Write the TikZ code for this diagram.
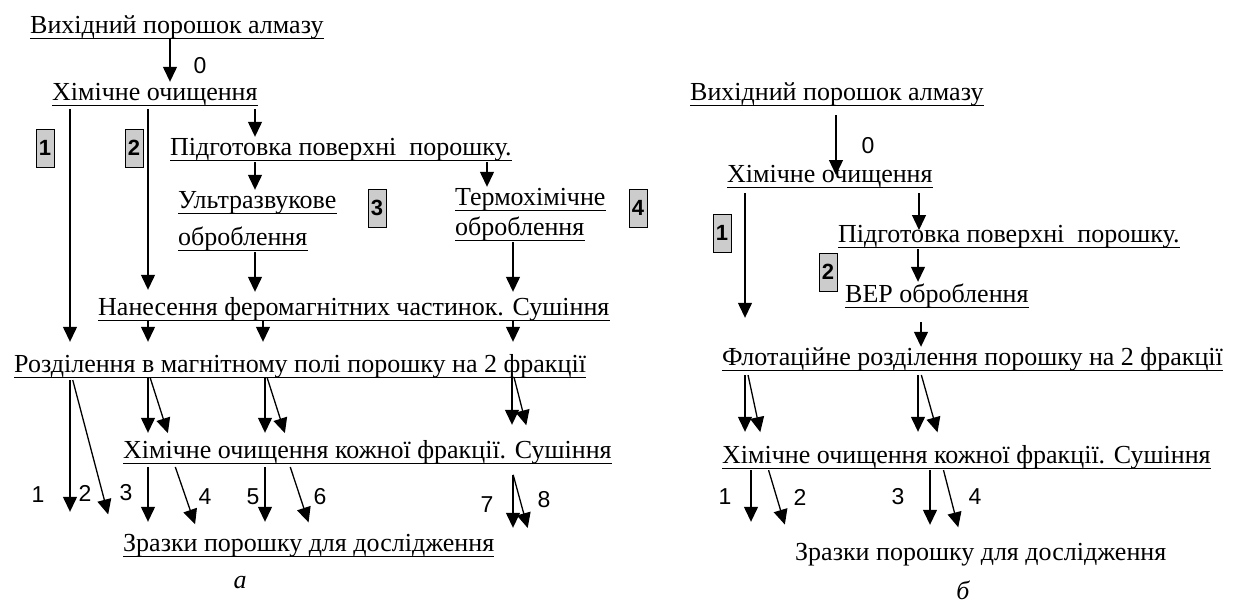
\documentclass[tikz,border=0pt]{standalone}
\usepackage{fontspec}
\setmainfont{Liberation Serif}
\newfontfamily\numfont{Liberation Sans}
\usetikzlibrary{arrows.meta}

\begin{document}
\begin{tikzpicture}[x=1pt,y=-1pt,
    stage/.style={anchor=base west,inner sep=0pt,text height=18pt,text depth=5pt,
      font=\fontsize{26}{30}\selectfont,
      append after command={(\tikzlastnode.south west) edge[line width=1.3pt] (\tikzlastnode.south east)}},
    plain/.style={anchor=base west,inner sep=0pt,text height=18pt,text depth=5pt,
      font=\fontsize{26}{30}\selectfont},
    tag/.style={draw,line width=1pt,fill=gray!40,minimum width=18pt,minimum height=38pt,
      inner sep=0pt,font=\numfont\bfseries\fontsize{22}{24}\selectfont},
    num/.style={inner sep=0pt,font=\numfont\fontsize{23}{26}\selectfont},
    arr/.style={line width=1.3pt,-{Triangle[length=15pt,width=14pt]}}]
  \fill[white] (0,0) rectangle (1250,603);
  \useasboundingbox (0,0) rectangle (1250,603);

  % scheme a
  \node[stage] (srcA) at (30,33) {Вихідний порошок алмазу};
  \node[stage] (chemA) at (52,100) {Хімічне очищення};
  \node[stage] (prepA) at (170,155) {Підготовка поверхні\ \ порошку.};
  \node[stage] (ultraA) at (178,208) {Ультразвукове};
  \node[stage] (ultraB) at (178,245) {оброблення};
  \node[stage] (termoA) at (455,205) {Термохімічне};
  \node[stage] (termoB) at (455,235) {оброблення};
  \node[stage] (nanesA) at (98,315) {Нанесення феромагнітних частинок. Сушіння};
  \node[stage] (sepA) at (14,372) {Розділення в магнітному полі порошку на 2 фракції};
  \node[stage] (washA) at (123,458) {Хімічне очищення кожної фракції. Сушіння};
  \node[stage] (probA) at (123,551) {Зразки порошку для дослідження};
  \node[font=\itshape\fontsize{26}{28}\selectfont] (capA) at (240,583) {а};

  \node[tag] (tagA1) at (45,148) {1};
  \node[tag] (tagA2) at (134,148) {2};
  \node[tag] (tagA3) at (377,208) {3};
  \node[tag] (tagA4) at (638,208) {4};

  \draw[arr] (srcA.south -| 170,0) -- (chemA.north -| 170,0);
  \node[num] (zeroA) at (200,66) {0};
  \draw[arr,shorten <=4pt,shorten >=12pt] (chemA.south -| 70,0) -- (sepA.north -| 70,0);
  \draw[arr,shorten <=4pt,shorten >=7pt] (chemA.south -| 148,0) -- (nanesA.north -| 148,0);
  \draw[arr,shorten <=4pt] (chemA.south -| 255,0) -- (prepA.north -| 255,0);
  \draw[arr,shorten <=2pt] (prepA.south -| 255,0) -- (ultraA.north -| 255,0);
  \draw[arr,shorten <=2pt] (prepA.south -| 487,0) -- (termoA.north -| 487,0);
  \draw[arr,shorten <=2pt,shorten >=5pt] (ultraB.south -| 255,0) -- (nanesA.north -| 255,0);
  \draw[arr,shorten <=2pt,shorten >=5pt] (termoB.south -| 513,0) -- (nanesA.north -| 513,0);

  \draw[arr,shorten >=12pt] (nanesA.south -| 148,0) -- (sepA.north -| 148,0);
  \draw[arr,shorten >=12pt] (nanesA.south -| 263,0) -- (sepA.north -| 263,0);
  \draw[arr,shorten >=12pt] (nanesA.south -| 513,0) -- (sepA.north -| 513,0);

  \draw[arr,shorten >=7pt] (sepA.south -| 148,0) -- (washA.north -| 148,0);
  \draw[arr,shorten >=7pt] (sepA.south -| 150,0) -- (washA.north -| 170,0);
  \draw[arr,shorten >=7pt] (sepA.south -| 265,0) -- (washA.north -| 265,0);
  \draw[arr,shorten >=7pt] (sepA.south -| 267,0) -- (washA.north -| 287,0);
  \draw[arr,shorten >=15pt] (sepA.south -| 512,0) -- (washA.north -| 512,0);
  \draw[arr,shorten >=15pt] (sepA.south -| 514,0) -- (washA.north -| 530,0);

  \draw[arr,shorten <=3pt,shorten >=21pt] (sepA.south -| 70,0) -- (probA.north -| 70,0);
  \draw[arr,shorten <=3pt,shorten >=19pt] (sepA.south -| 72,0) -- (probA.north -| 113,0);
  \draw[arr,shorten <=4pt,shorten >=11pt] (washA.south -| 148,0) -- (probA.north -| 148,0);
  \draw[arr,shorten <=4pt,shorten >=9pt] (washA.south -| 174,0) -- (probA.north -| 198,0);
  \draw[arr,shorten <=4pt,shorten >=11pt] (washA.south -| 265,0) -- (probA.north -| 265,0);
  \draw[arr,shorten <=4pt,shorten >=11pt] (washA.south -| 289,0) -- (probA.north -| 312,0);
  \draw[arr,shorten <=12pt,shorten >=5pt] (washA.south -| 513,0) -- (probA.north -| 513,0);
  \draw[arr,shorten <=12pt,shorten >=5pt] (washA.south -| 510,0) -- (probA.north -| 529,0);

  \node[num] (labA1) at (38,495) {1};
  \node[num] (labA2) at (85,493) {2};
  \node[num] (labA3) at (126,493) {3};
  \node[num] (labA4) at (205,497) {4};
  \node[num] (labA5) at (253,497) {5};
  \node[num] (labA6) at (320,497) {6};
  \node[num] (labA7) at (487,505) {7};
  \node[num] (labA8) at (544,500) {8};

  % scheme b
  \node[stage] (srcB) at (690,100) {Вихідний порошок алмазу};
  \node[stage] (chemB) at (727,182) {Хімічне очищення};
  \node[stage] (prepB) at (838,242) {Підготовка поверхні\ \ порошку.};
  \node[stage] (verB) at (845,302) {ВЕР оброблення};
  \node[stage] (flotB) at (722,365) {Флотаційне розділення порошку на 2 фракції};
  \node[stage] (washB) at (722,463) {Хімічне очищення кожної фракції. Сушіння};
  \node[plain] (probB) at (795,560) {Зразки порошку для дослідження};
  \node[font=\itshape\fontsize{26}{28}\selectfont] (capB) at (963,590) {б};

  \node[tag] (tagB1) at (722,233) {1};
  \node[tag] (tagB2) at (828,272) {2};

  \draw[arr,shorten <=10pt,shorten >=7pt] (srcB.south -| 836,0) -- (chemB.base -| 836,0);
  \node[num] (zeroB) at (868,146) {0};
  \draw[arr,shorten <=6pt,shorten >=29pt] (chemB.south -| 745,0) -- (flotB.north -| 745,0);
  \draw[arr,shorten <=6pt,shorten >=12pt] (chemB.south -| 919,0) -- (prepB.base -| 919,0);
  \draw[arr,shorten <=2pt,shorten >=2pt] (prepB.south -| 918,0) -- (verB.north -| 918,0);
  \draw[arr,shorten <=15pt] (verB.south -| 921,0) -- (flotB.north -| 921,0);

  \draw[arr,shorten <=5pt,shorten >=13pt] (flotB.south -| 745,0) -- (washB.north -| 745,0);
  \draw[arr,shorten <=5pt,shorten >=13pt] (flotB.south -| 747,0) -- (washB.north -| 763,0);
  \draw[arr,shorten <=5pt,shorten >=13pt] (flotB.south -| 918,0) -- (washB.north -| 918,0);
  \draw[arr,shorten <=5pt,shorten >=13pt] (flotB.south -| 920,0) -- (washB.north -| 941,0);

  \draw[arr,shorten <=2pt,shorten >=20pt] (washB.south -| 751,0) -- (probB.north -| 751,0);
  \draw[arr,shorten <=2pt,shorten >=18pt] (washB.south -| 768,0) -- (probB.north -| 790,0);
  \draw[arr,shorten <=2pt,shorten >=17pt] (washB.south -| 930,0) -- (probB.north -| 930,0);
  \draw[arr,shorten <=2pt,shorten >=15pt] (washB.south -| 943,0) -- (probB.north -| 962,0);

  \node[num] (labB1) at (725,497) {1};
  \node[num] (labB2) at (800,497) {2};
  \node[num] (labB3) at (898,497) {3};
  \node[num] (labB4) at (975,497) {4};
\end{tikzpicture}
\end{document}
